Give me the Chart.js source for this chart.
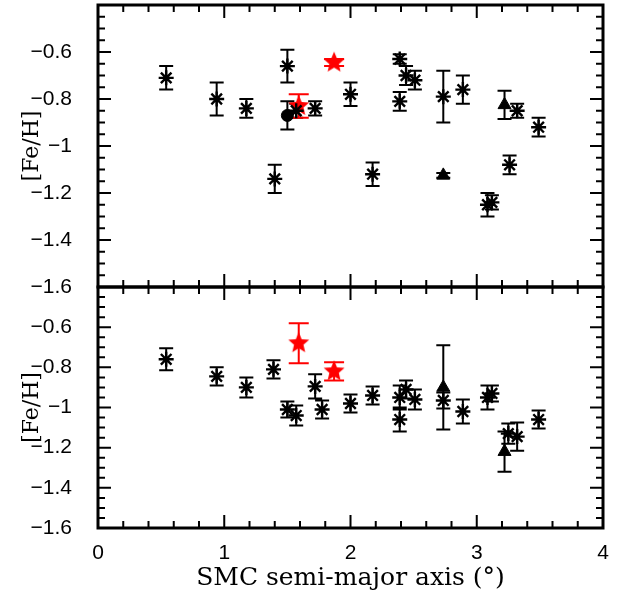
<!DOCTYPE html>
<html>
<head>
<meta charset="utf-8">
<script src="https://cdn.jsdelivr.net/npm/chart.js@4.4.1/dist/chart.umd.min.js"></script>
<style>
  body { margin: 0; background: #fff; }
  #wrap { position: relative; width: 618px; height: 595px; }
  #topChart { position: absolute; left: 0; top: 0; }
  #bottomChart { position: absolute; left: 0; top: 280px; }
</style>
</head>
<body>
<div id="wrap">
  <canvas id="topChart" width="618" height="300"></canvas>
  <canvas id="bottomChart" width="618" height="315"></canvas>
</div>
<script>
// Axes
const xTicks = [0, 1, 2, 3, 4];
const yTicks = [-0.6, -0.8, -1, -1.2, -1.4, -1.6];

// Panneau du haut : amas (astérisques)
const topAstX   = [0.54, 0.94, 1.175, 1.40, 1.50, 1.57, 1.72, 2.00, 2.175, 2.39, 2.39, 2.44, 2.51, 2.735, 2.89, 3.085, 3.12, 3.26, 3.32, 3.49];
const topAstY   = [-0.71, -0.80, -0.84, -1.14, -0.66, -0.85, -0.84, -0.78, -1.12, -0.63, -0.81, -0.70, -0.72, -0.79, -0.76, -1.25, -1.24, -1.08, -0.85, -0.92];
const topAstErr = [0.05, 0.07, 0.04, 0.06, 0.07, 0.03, 0.03, 0.05, 0.05, 0.02, 0.04, 0.04, 0.04, 0.11, 0.06, 0.05, 0.03, 0.04, 0.03, 0.04];
// étoiles rouges
const topRedX   = [1.59, 1.87];
const topRedY   = [-0.83, -0.645];
const topRedErr = [0.05, 0.015];
// triangles
const topTriX   = [2.735, 3.22];
const topTriY   = [-1.125, -0.825];
const topTriErr = [0.01, 0.06];
// cercle
const topDotX   = [1.50];
const topDotY   = [-0.87];
const topDotErr = [0.06];

// Panneau du bas
const botAstX   = [0.54, 0.94, 1.175, 1.39, 1.50, 1.57, 1.72, 1.775, 2.00, 2.175, 2.39, 2.39, 2.44, 2.51, 2.735, 2.89, 3.085, 3.12, 3.25, 3.32, 3.49];
const botAstY   = [-0.76, -0.845, -0.90, -0.81, -1.01, -1.04, -0.895, -1.01, -0.98, -0.94, -0.95, -1.06, -0.91, -0.96, -0.965, -1.02, -0.95, -0.93, -1.13, -1.145, -1.06];
const botAstErr = [0.055, 0.045, 0.05, 0.045, 0.04, 0.05, 0.06, 0.045, 0.045, 0.045, 0.06, 0.06, 0.045, 0.05, 0.04, 0.06, 0.06, 0.04, 0.05, 0.07, 0.045];
const botRedX   = [1.59, 1.87];
const botRedY   = [-0.68, -0.82];
const botRedErr = [0.10, 0.045];
const botTriX   = [2.735, 3.22];
const botTriY   = [-0.90, -1.22];
const botTriErr = [0.21, 0.10];

const pts = (xs, ys) => xs.map((x, i) => ({ x, y: ys[i] }));

// Étoile pleine à 5 branches (image de point)
function makeStar(r, color) {
    const c = document.createElement('canvas');
    c.width = c.height = 2 * r + 2;
    const g = c.getContext('2d');
    g.beginPath();
    for (let i = 0; i < 10; i++) {
        const a = -Math.PI / 2 + i * Math.PI / 5;
        const rr = i % 2 ? r * 0.45 : r;
        g.lineTo(r + 1 + rr * Math.cos(a), r + 1 + rr * Math.sin(a));
    }
    g.closePath();
    g.fillStyle = color;
    g.fill();
    return c;
}
const redStar = makeStar(11, '#ff0000');

// Barres d'erreur verticales
const errorBars = {
    id: 'errorBars',
    beforeDatasetsDraw(chart) {
        const { ctx, scales: { x, y } } = chart;
        chart.data.datasets.forEach(ds => {
            if (!ds.errs) return;
            ctx.save();
            ctx.strokeStyle = ds.barColor;
            ctx.lineWidth = 2;
            ctx.beginPath();
            ds.data.forEach((p, i) => {
                const px = x.getPixelForValue(p.x);
                const y1 = y.getPixelForValue(p.y + ds.errs[i]);
                const y2 = y.getPixelForValue(p.y - ds.errs[i]);
                const w = ds.cap;
                ctx.moveTo(px, y1); ctx.lineTo(px, y2);
                ctx.moveTo(px - w, y1); ctx.lineTo(px + w, y1);
                ctx.moveTo(px - w, y2); ctx.lineTo(px + w, y2);
            });
            ctx.stroke();
            ctx.restore();
        });
    }
};

// Cadre et graduations vers l'intérieur, sur les 4 côtés
const frameTicks = {
    id: 'frameTicks',
    afterDraw(chart) {
        const { ctx, chartArea: a, scales: { x, y } } = chart;
        ctx.save();
        ctx.strokeStyle = '#000';
        ctx.lineWidth = 2;
        ctx.beginPath();
        for (let k = 0; k <= 20; k++) {
            const v = x.min + k * 0.2;
            const px = x.getPixelForValue(v);
            const len = k % 5 === 0 ? 13 : 7;
            ctx.moveTo(px, a.bottom); ctx.lineTo(px, a.bottom - len);
            ctx.moveTo(px, a.top); ctx.lineTo(px, a.top + len);
        }
        for (let k = 0; k <= 24; k++) {
            const v = y.min + k * 0.05;
            const py = y.getPixelForValue(v);
            const len = k % 4 === 0 ? 13 : 7;
            ctx.moveTo(a.left, py); ctx.lineTo(a.left + len, py);
            ctx.moveTo(a.right, py); ctx.lineTo(a.right - len, py);
        }
        ctx.stroke();
        ctx.lineWidth = 3;
        ctx.strokeRect(a.left, a.top, a.right - a.left, a.bottom - a.top);
        ctx.restore();
    }
};

function datasets(ast, red, tri, dot) {
    const list = [{
        data: pts(ast[0], ast[1]), errs: ast[2], cap: 7, barColor: '#000',
        pointStyle: 'star', pointRadius: 7.5, borderColor: '#000', borderWidth: 2.4
    }];
    if (dot) list.push({
        data: pts(dot[0], dot[1]), errs: dot[2], cap: 7, barColor: '#000',
        pointStyle: 'circle', pointRadius: 6, backgroundColor: '#000', borderColor: '#000', borderWidth: 1
    });
    list.push({
        data: pts(tri[0], tri[1]), errs: tri[2], cap: 7, barColor: '#000',
        pointStyle: 'triangle', pointRadius: 7.5, backgroundColor: '#000', borderColor: '#000', borderWidth: 1
    });
    list.push({
        data: pts(red[0], red[1]), errs: red[2], cap: 10, barColor: '#ff0000',
        pointStyle: redStar, pointRadius: 11, borderColor: '#ff0000'
    });
    return list;
}

const tickFont = { family: 'Liberation Sans', size: 21 };
const titleFont = { family: 'DejaVu Serif', size: 22 };

function yScale() {
    return {
        min: -1.6, max: -0.4,
        grid: { display: false }, border: { display: false },
        afterBuildTicks: s => { s.ticks = yTicks.map(v => ({ value: v })); },
        afterFit: s => { s.width = 98; s.paddingTop = 0; s.paddingBottom = 0; },
        ticks: {
            color: '#000', font: tickFont, padding: 18,
            callback: v => '\u2212' + Math.abs(v)
        },
        title: { display: true, text: '[Fe/H]', color: '#000', font: titleFont, padding: { top: 19 } }
    };
}

const common = {
    responsive: false,
    animation: false,
    devicePixelRatio: 1,
    plugins: { legend: { display: false }, tooltip: { enabled: false } }
};

new Chart(document.getElementById('topChart'), {
    type: 'scatter',
    data: { datasets: datasets([topAstX, topAstY, topAstErr], [topRedX, topRedY, topRedErr], [topTriX, topTriY, topTriErr], [topDotX, topDotY, topDotErr]) },
    options: {
        ...common,
        layout: { autoPadding: false, padding: { top: 5, right: 15, bottom: 13, left: 0 } },
        scales: {
            x: { min: 0, max: 4, display: false },
            y: yScale()
        }
    },
    plugins: [errorBars, frameTicks]
});

new Chart(document.getElementById('bottomChart'), {
    type: 'scatter',
    data: { datasets: datasets([botAstX, botAstY, botAstErr], [botRedX, botRedY, botRedErr], [botTriX, botTriY, botTriErr]) },
    options: {
        ...common,
        layout: { autoPadding: false, padding: { top: 7, right: 15, bottom: 0, left: 0 } },
        scales: {
            x: {
                min: 0, max: 4,
                grid: { display: false }, border: { display: false },
                afterBuildTicks: s => { s.ticks = xTicks.map(v => ({ value: v })); },
                afterFit: s => { s.height = 67; },
                ticks: { color: '#000', font: tickFont, padding: 5, maxRotation: 0 },
                title: {
                    display: true, text: 'SMC semi-major axis (°)', color: '#000',
                    font: { family: 'DejaVu Serif', size: 25 }, padding: { top: 0, bottom: 2 }
                }
            },
            y: yScale()
        }
    },
    plugins: [errorBars, frameTicks]
});
</script>
</body>
</html>
